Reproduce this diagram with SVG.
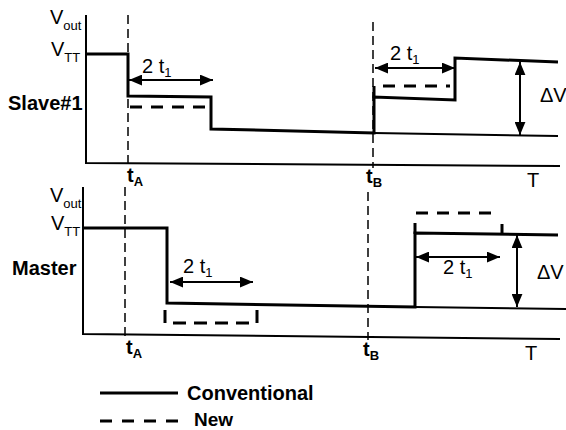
<svg xmlns="http://www.w3.org/2000/svg" width="566" height="430" viewBox="0 0 566 430">
<style>
text{font-family:"Liberation Sans",Arial,sans-serif;fill:#000}
.b{font-weight:bold}
.lab{font-size:20px}
.sub{font-size:13px}
.axis{stroke:#000;stroke-width:2;fill:none}
.sig{stroke:#000;stroke-width:3;fill:none;stroke-linejoin:miter}
.base{stroke:#000;stroke-width:2;fill:none}
.new{stroke:#000;stroke-width:3;fill:none;stroke-dasharray:12,9}
.guide{stroke:#000;stroke-width:1.5;fill:none;stroke-dasharray:9,5}
.arr{stroke:#000;stroke-width:2;fill:none;marker-start:url(#ah);marker-end:url(#ah)}
</style>
<defs>
<marker id="ah" viewBox="0 0 12 10" refX="12" refY="5" markerWidth="13" markerHeight="11" markerUnits="userSpaceOnUse" orient="auto-start-reverse">
<path d="M0,0 L12,5 L0,10 Z" fill="#000"/>
</marker>
</defs>

<g id="slave-panel">
<g id="slave-axes">
<path class="axis" d="M86,15 V163 L560,166"/>
</g>
<g id="slave-labels">
<text class="lab" x="50" y="24">V<tspan class="sub" dy="6">out</tspan></text>
<text class="lab" x="51" y="56">V<tspan class="sub" dy="6">TT</tspan></text>
<text class="lab b" x="8" y="110">Slave#1</text>
<text class="lab b" x="127" y="182">t<tspan class="sub" dy="4">A</tspan></text>
<text class="lab b" x="366" y="183">t<tspan class="sub" dy="4">B</tspan></text>
<text class="lab" x="527" y="187">T</text>
<text class="lab" x="142" y="73">2 t<tspan class="sub" dy="4">1</tspan></text>
<text class="lab" x="390" y="60">2 t<tspan class="sub" dy="4">1</tspan></text>
<text class="lab" x="540" y="102">ΔV</text>
</g>
</g>

<g id="master-panel">
<g id="master-axes">
<path class="axis" d="M83,187 V334 L560,339"/>
</g>
<g id="master-labels">
<text class="lab" x="50" y="202">V<tspan class="sub" dy="6">out</tspan></text>
<text class="lab" x="51" y="230">V<tspan class="sub" dy="6">TT</tspan></text>
<text class="lab b" x="12" y="275">Master</text>
<text class="lab b" x="126" y="354">t<tspan class="sub" dy="4">A</tspan></text>
<text class="lab b" x="363" y="356">t<tspan class="sub" dy="4">B</tspan></text>
<text class="lab" x="525" y="360">T</text>
<text class="lab" x="183" y="273">2 t<tspan class="sub" dy="4">1</tspan></text>
<text class="lab" x="443" y="274">2 t<tspan class="sub" dy="4">1</tspan></text>
<text class="lab" x="537" y="279">ΔV</text>
</g>
</g>

<g id="connectors">
<line class="guide" x1="128" y1="15" x2="128" y2="166"/>
<line class="guide" x1="373" y1="22" x2="373" y2="168"/>
<line class="guide" x1="125" y1="187" x2="125" y2="338"/>
<line class="guide" x1="368" y1="192" x2="368" y2="340"/>
<path class="sig" d="M86,54 H128 V96 L211,97 V129 L374,133 V97 L455,100 V58 L558,62"/>
<path class="base" d="M374,133 L558,136"/>
<line class="new" x1="130" y1="107" x2="209" y2="107"/>
<line class="sig" x1="374" y1="86" x2="374" y2="98"/>
<line class="new" x1="383" y1="86" x2="450" y2="86"/>
<path class="sig" d="M83,228 H167 V303 L415,307 V233 L558,235"/>
<path class="base" d="M415,307 L566,309"/>
<path class="new" d="M165,310 V323 H257 V306" style="stroke-dasharray:13,8"/>
<line class="sig" x1="415" y1="223" x2="415" y2="234"/>
<line class="new" x1="416" y1="213" x2="500" y2="213"/>
<line class="sig" x1="502" y1="224" x2="502" y2="234"/>
<line class="arr" x1="129" y1="80" x2="213" y2="80"/>
<line class="arr" x1="375" y1="68" x2="455" y2="68"/>
<line class="arr" x1="520" y1="62" x2="520" y2="135"/>
<line class="arr" x1="170" y1="282" x2="253" y2="282"/>
<line class="arr" x1="416" y1="257" x2="500" y2="257"/>
<line class="arr" x1="517" y1="235" x2="517" y2="307"/>
</g>

<g id="legend">
<line class="sig" x1="100" y1="393" x2="178" y2="393"/>
<text class="lab b" x="187" y="400">Conventional</text>
<line class="new" x1="100" y1="421" x2="180" y2="421" style="stroke-dasharray:12,10"/>
<text class="lab b" x="194" y="426" style="font-size:19px">New</text>
</g>
</svg>
